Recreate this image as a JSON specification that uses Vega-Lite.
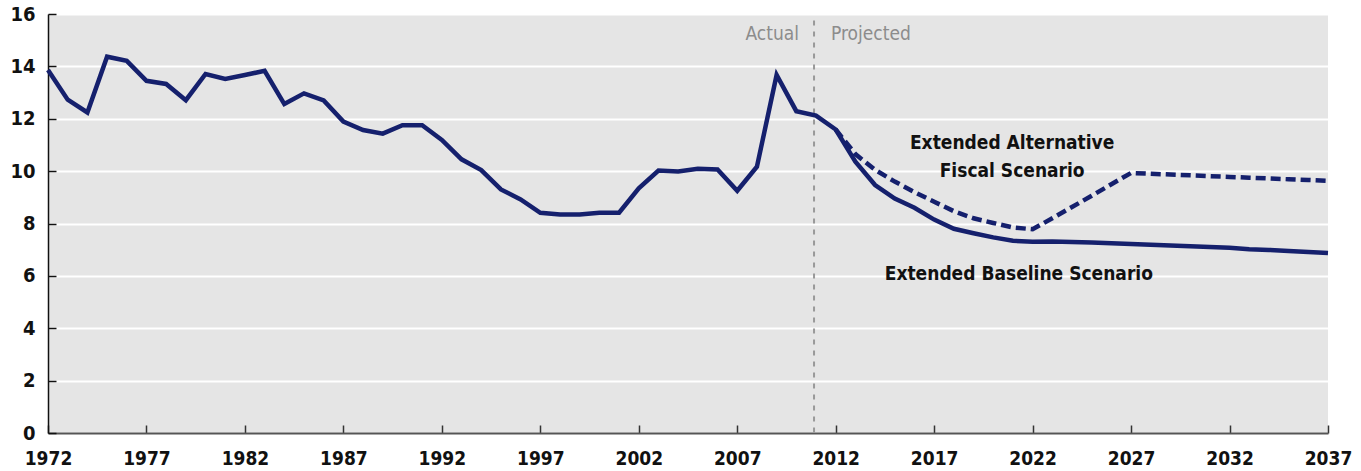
{
  "$schema": "https://vega.github.io/schema/vega-lite/v6.json",
  "width": 1280,
  "height": 419,
  "autosize": "none",
  "padding": {"left": 48, "top": 14, "right": 33, "bottom": 38},
  "background": "white",
  "config": {
    "view": {"fill": "#e5e5e5", "stroke": null},
    "font": "Liberation Sans Narrow, DejaVu Sans Condensed, sans-serif"
  },
  "datasets": {
    "baseline": [
      {"year": 1972, "value": 13.86}, {"year": 1973, "value": 12.73}, {"year": 1974, "value": 12.24},
      {"year": 1975, "value": 14.37}, {"year": 1976, "value": 14.21}, {"year": 1977, "value": 13.45},
      {"year": 1978, "value": 13.33}, {"year": 1979, "value": 12.71}, {"year": 1980, "value": 13.71},
      {"year": 1981, "value": 13.52}, {"year": 1982, "value": 13.67}, {"year": 1983, "value": 13.83},
      {"year": 1984, "value": 12.56}, {"year": 1985, "value": 12.97}, {"year": 1986, "value": 12.7},
      {"year": 1987, "value": 11.89}, {"year": 1988, "value": 11.57}, {"year": 1989, "value": 11.43},
      {"year": 1990, "value": 11.75}, {"year": 1991, "value": 11.75}, {"year": 1992, "value": 11.19},
      {"year": 1993, "value": 10.45}, {"year": 1994, "value": 10.04}, {"year": 1995, "value": 9.3},
      {"year": 1996, "value": 8.92}, {"year": 1997, "value": 8.41}, {"year": 1998, "value": 8.34},
      {"year": 1999, "value": 8.34}, {"year": 2000, "value": 8.41}, {"year": 2001, "value": 8.41},
      {"year": 2002, "value": 9.34}, {"year": 2003, "value": 10.02}, {"year": 2004, "value": 9.99},
      {"year": 2005, "value": 10.09}, {"year": 2006, "value": 10.06}, {"year": 2007, "value": 9.25},
      {"year": 2008, "value": 10.17}, {"year": 2009, "value": 13.67}, {"year": 2010, "value": 12.29},
      {"year": 2011, "value": 12.12}, {"year": 2012, "value": 11.59}, {"year": 2013, "value": 10.36},
      {"year": 2014, "value": 9.47}, {"year": 2015, "value": 8.95}, {"year": 2016, "value": 8.6},
      {"year": 2017, "value": 8.15}, {"year": 2018, "value": 7.8}, {"year": 2019, "value": 7.63},
      {"year": 2020, "value": 7.47}, {"year": 2021, "value": 7.34}, {"year": 2022, "value": 7.3},
      {"year": 2023, "value": 7.31}, {"year": 2024, "value": 7.29}, {"year": 2025, "value": 7.27},
      {"year": 2026, "value": 7.25}, {"year": 2027, "value": 7.22}, {"year": 2028, "value": 7.19},
      {"year": 2029, "value": 7.16}, {"year": 2030, "value": 7.13}, {"year": 2031, "value": 7.1},
      {"year": 2032, "value": 7.07}, {"year": 2033, "value": 7.02}, {"year": 2034, "value": 6.99},
      {"year": 2035, "value": 6.95}, {"year": 2036, "value": 6.91}, {"year": 2037, "value": 6.87}
    ],
    "alternative": [
      {"year": 2012, "value": 11.59}, {"year": 2013, "value": 10.65}, {"year": 2014, "value": 10.05},
      {"year": 2015, "value": 9.6}, {"year": 2016, "value": 9.2}, {"year": 2017, "value": 8.83},
      {"year": 2018, "value": 8.47}, {"year": 2019, "value": 8.2}, {"year": 2020, "value": 8.02},
      {"year": 2021, "value": 7.85}, {"year": 2022, "value": 7.78}, {"year": 2023, "value": 8.2},
      {"year": 2024, "value": 8.63}, {"year": 2025, "value": 9.06}, {"year": 2026, "value": 9.5},
      {"year": 2027, "value": 9.93}, {"year": 2028, "value": 9.9}, {"year": 2029, "value": 9.87},
      {"year": 2030, "value": 9.84}, {"year": 2031, "value": 9.81}, {"year": 2032, "value": 9.78},
      {"year": 2033, "value": 9.75}, {"year": 2034, "value": 9.72}, {"year": 2035, "value": 9.69},
      {"year": 2036, "value": 9.66}, {"year": 2037, "value": 9.63}
    ],
    "divider": [{"year": 2010.9, "top": 15.75, "bottom": 0}],
    "labels": [
      {"name": "actual", "year": 2010.9, "value": 15.23},
      {"name": "projected", "year": 2010.9, "value": 15.23},
      {"name": "alt", "year": 2020.96, "value": 11.1},
      {"name": "base", "year": 2021.3, "value": 6.15}
    ]
  },
  "encoding": {
    "x": {
      "field": "year", "type": "quantitative",
      "scale": {"domain": [1972, 2037], "nice": false, "zero": false},
      "axis": {
        "title": null,
        "values": [1972, 1977, 1982, 1987, 1992, 1997, 2002, 2007, 2012, 2017, 2022, 2027, 2032, 2037],
        "format": "d",
        "grid": false,
        "domainColor": "#555555", "domainWidth": 2,
        "tickColor": "#333333", "tickSize": -8, "tickWidth": 1.5,
        "labelFont": "Liberation Sans Narrow, DejaVu Sans Condensed, sans-serif",
        "labelFontWeight": "bold", "labelFontSize": 19, "labelColor": "#111111",
        "labelPadding": 24, "labelFlush": false
      }
    },
    "y": {
      "field": "value", "type": "quantitative",
      "scale": {"domain": [0, 16], "nice": false},
      "axis": {
        "title": null,
        "values": [0, 2, 4, 6, 8, 10, 12, 14, 16],
        "grid": true, "gridColor": "#ffffff", "gridWidth": 2,
        "domainColor": "#111111", "domainWidth": 1.5,
        "tickColor": "#111111", "tickSize": -8, "tickWidth": 1.5,
        "labelFont": "Liberation Sans Narrow, DejaVu Sans Condensed, sans-serif",
        "labelFontWeight": "bold", "labelFontSize": 20, "labelColor": "#111111",
        "labelPadding": 21
      }
    }
  },
  "layer": [
    {
      "data": {"name": "divider"},
      "mark": {"type": "rule", "color": "#999999", "strokeWidth": 2, "strokeDash": [5, 6]},
      "encoding": {
        "x": {"field": "year", "type": "quantitative"},
        "y": {"field": "top", "type": "quantitative"},
        "y2": {"field": "bottom"}
      }
    },
    {
      "data": {"name": "alternative"},
      "mark": {"type": "line", "color": "#15206d", "strokeWidth": 4.5, "strokeDash": [10, 5]},
      "encoding": {}
    },
    {
      "data": {"name": "baseline"},
      "mark": {"type": "line", "color": "#15206d", "strokeWidth": 4.5},
      "encoding": {}
    },
    {
      "data": {"name": "labels"},
      "transform": [{"filter": "datum.name === 'actual'"}],
      "mark": {"type": "text", "text": "Actual", "align": "right", "baseline": "middle", "dx": -15, "fontSize": 19, "color": "#8c8c8c"},
      "encoding": {}
    },
    {
      "data": {"name": "labels"},
      "transform": [{"filter": "datum.name === 'projected'"}],
      "mark": {"type": "text", "text": "Projected", "align": "left", "baseline": "middle", "dx": 17, "fontSize": 19, "color": "#8c8c8c"},
      "encoding": {}
    },
    {
      "data": {"name": "labels"},
      "transform": [{"filter": "datum.name === 'alt'"}],
      "mark": {"type": "text", "text": ["Extended Alternative", "Fiscal Scenario"], "align": "center", "baseline": "middle", "lineHeight": 28, "dy": 1, "fontSize": 19, "fontWeight": "bold", "color": "#111111"},
      "encoding": {}
    },
    {
      "data": {"name": "labels"},
      "transform": [{"filter": "datum.name === 'base'"}],
      "mark": {"type": "text", "text": "Extended Baseline Scenario", "align": "center", "baseline": "middle", "dy": 2, "fontSize": 19, "fontWeight": "bold", "color": "#111111"},
      "encoding": {}
    }
  ]
}
